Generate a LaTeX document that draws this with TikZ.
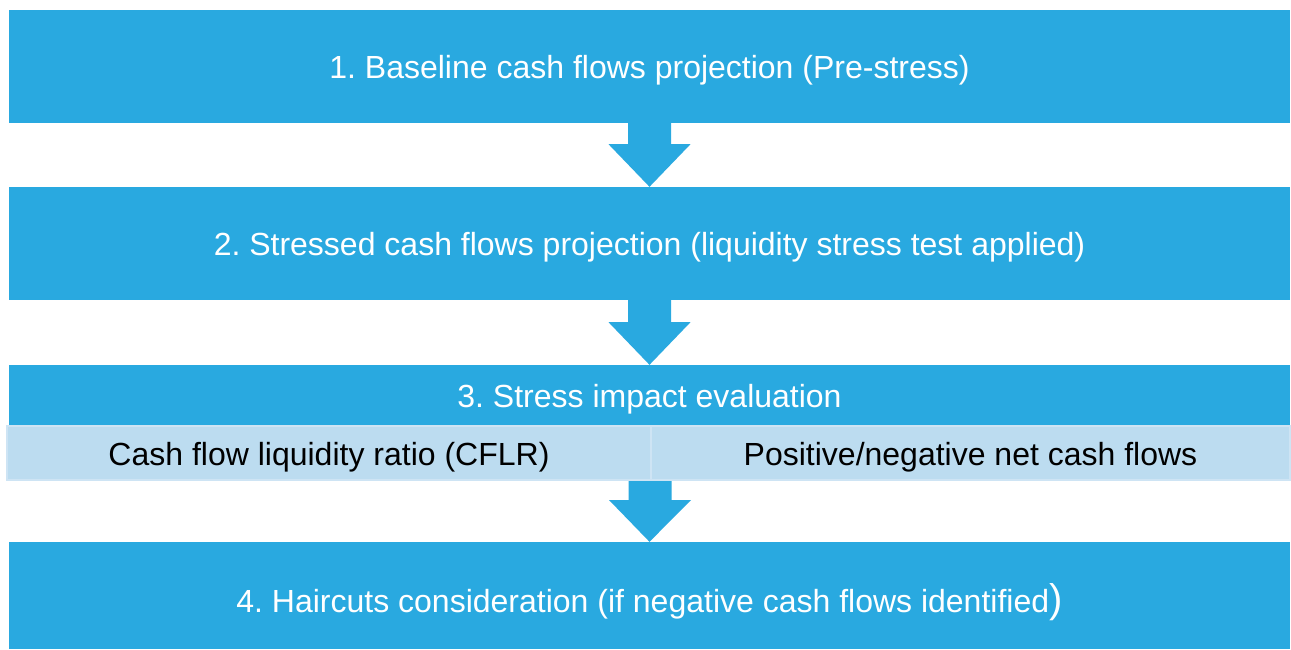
\documentclass[tikz,border=0pt]{standalone}
\usepackage{fontspec}
\setmainfont{Liberation Sans}
\frenchspacing
\definecolor{mainblue}{RGB}{41,169,224}
\definecolor{lightblue}{RGB}{188,220,240}
\definecolor{lightedge}{RGB}{206,228,244}
\begin{document}
\begin{tikzpicture}[x=1pt,y=1pt,
  bluebox/.style={rectangle, fill=mainblue, inner sep=0pt, text=white, font=\fontsize{32}{38}\selectfont, text height=31pt, text depth=7pt},
  cellbox/.style={rectangle, fill=lightblue, draw=lightedge, line width=2pt, inner sep=0pt, text=black, font=\fontsize{32}{38}\selectfont, text height=31pt, text depth=7pt},
  flowarrow/.style={fill=mainblue, draw=none}]
\useasboundingbox (0,0) rectangle (1291,-649);
\fill[white] (0,0) rectangle (1291,-649);
\node[bluebox, minimum width=1281pt, minimum height=113pt] (b1) at (649.5,-66.5) {1. Baseline cash flows projection (Pre-stress)};
\node[bluebox, minimum width=1281pt, minimum height=113pt] (b2) at (649.5,-243.5) {2. Stressed cash flows projection (liquidity stress test applied)};
\node[bluebox, minimum width=1281pt, minimum height=61pt] (b3) at (649.5,-395.5) {3. Stress impact evaluation};
\node[cellbox, minimum width=644pt, minimum height=54pt] (c1) at (329,-453) {Cash flow liquidity ratio (CFLR)};
\node[cellbox, minimum width=639pt, minimum height=54pt] (c2) at (970.5,-453) {Positive/negative net cash flows};
\node[bluebox, minimum width=1281pt, minimum height=107pt] (b4) at (649.5,-595.5) {};
\node[text=white, font=\fontsize{32}{38}\selectfont, inner sep=0pt] (t4) at ([yshift=-7pt]b4.center) {4. Haircuts consideration (if negative cash flows identified{\fontsize{40}{38}\selectfont)}};
% arrows
\fill[flowarrow] ([xshift=-21.5pt]b1.south) -- ++(0,-21) -- ++(-19.5,0) -- (b2.north) -- ([xshift=41pt,yshift=-21pt]b1.south) -- ++(-19.5,0) -- ([xshift=21.5pt]b1.south) -- cycle;
\fill[flowarrow] ([xshift=-21.5pt]b2.south) -- ++(0,-22) -- ++(-19.5,0) -- (b3.north) -- ([xshift=41pt,yshift=-22pt]b2.south) -- ++(-19.5,0) -- ([xshift=21.5pt]b2.south) -- cycle;
\coordinate (c3s) at (650,-481);
\fill[flowarrow] ([xshift=-21.5pt]c3s) -- ++(0,-19) -- ++(-19.5,0) -- (b4.north) -- ([xshift=41pt,yshift=-19pt]c3s) -- ++(-19.5,0) -- ([xshift=21.5pt]c3s) -- cycle;
\end{tikzpicture}
\end{document}
